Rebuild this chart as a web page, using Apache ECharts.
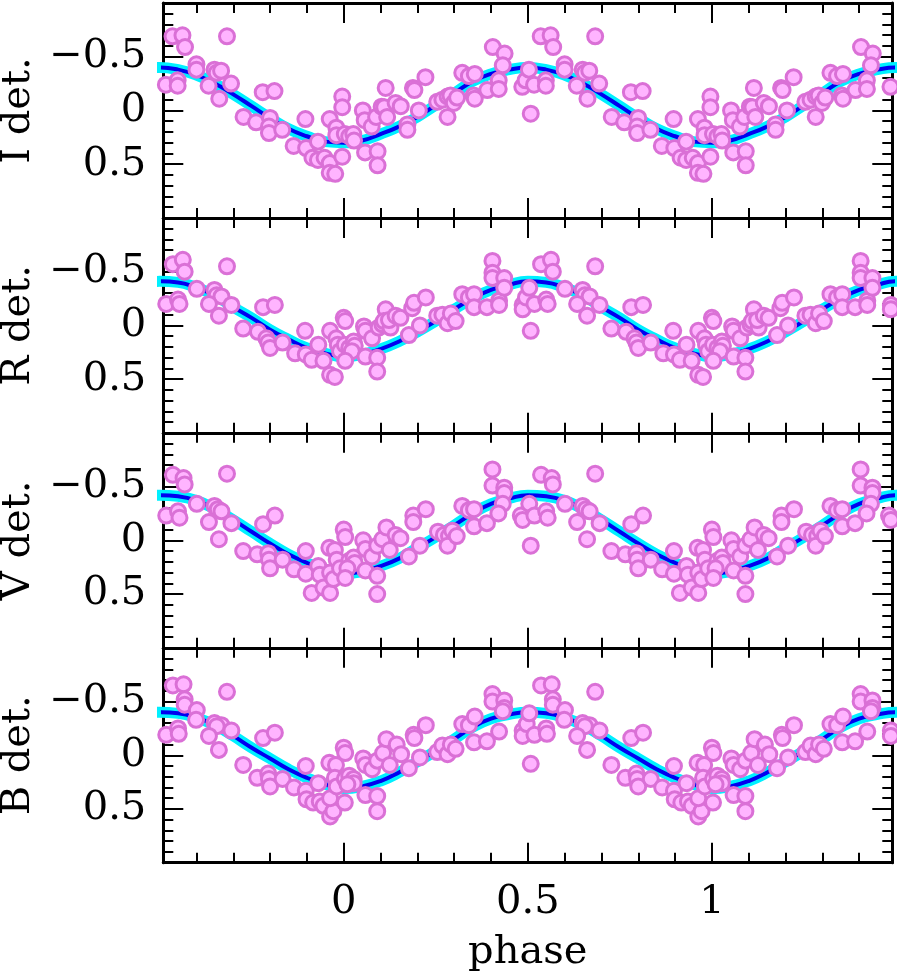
<!DOCTYPE html>
<html>
<head>
<meta charset="utf-8">
<script src="https://cdn.jsdelivr.net/npm/echarts@6/dist/echarts.min.js"></script>
<style>
  html, body { margin: 0; padding: 0; background: #fff; }
  #chart-container { width: 897px; height: 975px; }
</style>
</head>
<body>
<div id="chart-container"></div>
<script>
// panel names, top to bottom
const panelNames = ['I det.', 'R det.', 'V det.', 'B det.'];

// folded observations: [phase, detrended value], one period each
const iPoints = [
  [0.003,0.22],[0.015,0.24],[0.026,0.22],[0.028,0.28],
  [0.052,0.00],[0.058,0.39],[0.057,0.09],[0.076,0.15],[0.088,0.06],[0.092,0.38],[0.092,0.51],
  [0.103,-0.035],[0.110,-0.03],[0.114,-0.21],[0.118,0.06],[0.141,-0.07],[0.155,-0.04],[0.173,0.13],[0.173,0.18],
  [0.188,-0.21],[0.192,-0.19],[0.204,0.00],[0.222,-0.31],
  [0.254,-0.08],[0.268,-0.10],[0.282,-0.13],[0.282,0.06],[0.290,-0.14],[0.299,-0.07],[0.308,-0.12],
  [0.322,-0.35],[0.340,-0.32],[0.356,-0.34],[0.353,-0.14],[0.356,-0.11],[0.390,-0.19],
  [0.405,-0.59],[0.437,-0.53],[0.432,-0.42],[0.421,-0.28],[0.421,-0.20],
  [0.485,-0.22],[0.494,-0.28],[0.503,-0.38],[0.508,0.03],[0.517,-0.24],
  [0.535,-0.69],[0.562,-0.70],[0.569,-0.59],[0.549,-0.28],[0.549,-0.23],
  [0.600,-0.43],[0.600,-0.38],[0.633,-0.23],[0.649,-0.38],[0.655,-0.35],[0.667,-0.37],[0.662,-0.11],[0.694,-0.25],[0.683,-0.69],
  [0.728,0.06],[0.762,0.11],[0.780,-0.17],[0.812,-0.18],[0.800,0.07],[0.797,0.15],[0.797,0.21],[0.833,0.18],
  [0.864,0.33],[0.896,0.08],[0.898,0.35],[0.930,0.29],[0.915,0.44],[0.930,0.46],[0.948,0.44],
  [0.962,0.08],[0.962,0.49],[0.962,0.58],[0.977,0.59],[0.980,0.16],[0.980,0.23],
  [0.996,-0.13],[0.996,-0.03],[0.996,0.43]
];
const rPoints = [
  [0.000,-0.07],[0.004,-0.04],[0.003,0.18],[0.015,0.21],[0.027,0.15],[0.030,0.19],[0.022,0.24],[0.004,0.33],
  [0.059,0.29],[0.091,0.30],[0.091,0.43],[0.055,0.01],[0.059,0.05],[0.077,0.12],[0.095,0.02],[0.105,-0.01],
  [0.114,-0.15],[0.109,-0.04],[0.127,0.02],[0.123,-0.05],[0.141,-0.09],[0.154,-0.07],[0.177,0.09],
  [0.186,-0.16],[0.191,-0.21],[0.223,-0.26],[0.207,0.00],
  [0.254,-0.09],[0.268,-0.10],[0.282,-0.02],[0.291,-0.11],[0.304,-0.04],[0.322,-0.29],[0.340,-0.26],
  [0.354,-0.29],[0.354,-0.17],[0.389,-0.17],[0.404,-0.60],[0.404,-0.49],[0.404,-0.44],[0.422,-0.23],
  [0.422,-0.19],[0.436,-0.44],[0.436,-0.35],
  [0.486,-0.19],[0.486,-0.15],[0.495,-0.26],[0.504,-0.35],[0.518,-0.20],[0.550,-0.24],[0.554,-0.20],
  [0.508,0.05],[0.536,-0.57],[0.563,-0.61],[0.568,-0.50],[0.601,-0.34],[0.649,-0.33],[0.655,-0.28],
  [0.668,-0.27],[0.634,-0.20],[0.661,-0.09],[0.683,-0.55],[0.695,-0.19],
  [0.727,0.03],[0.767,0.06],[0.781,-0.17],[0.813,-0.19],[0.790,0.12],[0.795,0.16],[0.800,0.21],
  [0.834,0.16],[0.868,0.26],[0.895,0.05],[0.897,0.27],[0.913,0.32],[0.931,0.18],[0.945,0.33],
  [0.963,0.46],[0.976,0.48],[0.963,0.05],[0.980,0.12],[0.984,0.18],[0.990,0.24]
];
const vPoints = [
  [0.000,-0.10],[0.004,-0.03],[0.015,0.19],[0.027,0.16],[0.030,0.21],[0.010,0.26],[0.004,0.35],
  [0.059,0.28],[0.091,0.33],[0.091,0.50],[0.053,0.00],[0.059,0.08],[0.077,0.15],[0.091,0.05],
  [0.105,-0.01],[0.116,-0.12],[0.125,0.09],[0.141,-0.05],[0.154,-0.02],[0.177,0.15],[0.189,-0.23],
  [0.189,-0.17],[0.223,-0.29],[0.207,0.05],
  [0.256,-0.08],[0.272,-0.05],[0.286,-0.04],[0.282,0.05],[0.295,-0.09],[0.307,-0.04],[0.322,-0.32],
  [0.340,-0.28],[0.354,-0.29],[0.354,-0.13],[0.389,-0.16],[0.404,-0.66],[0.404,-0.51],[0.436,-0.49],
  [0.436,-0.44],[0.432,-0.34],[0.420,-0.25],
  [0.481,-0.23],[0.486,-0.19],[0.504,-0.34],[0.518,-0.23],[0.508,0.05],[0.550,-0.27],[0.554,-0.21],
  [0.536,-0.61],[0.565,-0.58],[0.568,-0.52],[0.601,-0.34],[0.649,-0.32],[0.658,-0.29],[0.668,-0.27],
  [0.634,-0.17],[0.661,-0.01],[0.683,-0.62],[0.695,-0.16],
  [0.727,0.10],[0.765,0.13],[0.781,-0.15],[0.813,-0.23],[0.795,0.12],[0.797,0.18],[0.800,0.26],
  [0.834,0.18],[0.865,0.27],[0.897,0.10],[0.897,0.31],[0.913,0.49],[0.931,0.24],[0.935,0.32],
  [0.945,0.44],[0.963,0.49],[0.961,0.07],[0.976,0.09],[0.963,0.30],[0.972,0.36],[0.981,0.18],[0.990,0.26]
];
const bPoints = [
  [0.000,-0.07],[0.004,-0.02],[0.003,0.22],[0.015,0.19],[0.027,0.22],[0.027,0.26],[0.010,0.27],[0.003,0.44],
  [0.059,0.37],[0.091,0.38],[0.091,0.52],[0.053,0.03],[0.059,0.09],[0.077,0.13],[0.091,0.05],
  [0.107,-0.02],[0.116,-0.15],[0.125,0.09],[0.144,-0.10],[0.156,-0.01],[0.177,0.12],[0.190,-0.19],
  [0.192,-0.16],[0.223,-0.28],[0.207,0.02],
  [0.254,-0.03],[0.268,-0.09],[0.282,-0.01],[0.291,-0.10],[0.304,-0.06],[0.322,-0.29],[0.340,-0.28],
  [0.356,-0.36],[0.354,-0.12],[0.389,-0.13],[0.404,-0.57],[0.404,-0.50],[0.436,-0.51],[0.436,-0.44],
  [0.422,-0.22],[0.432,-0.41],
  [0.486,-0.23],[0.486,-0.18],[0.497,-0.29],[0.504,-0.39],[0.518,-0.19],[0.550,-0.25],[0.552,-0.20],
  [0.508,0.08],[0.536,-0.65],[0.565,-0.66],[0.568,-0.52],[0.568,-0.47],[0.601,-0.42],[0.599,-0.33],
  [0.649,-0.30],[0.668,-0.28],[0.655,-0.27],[0.634,-0.18],[0.661,-0.05],[0.683,-0.59],[0.695,-0.23],
  [0.727,0.09],[0.765,0.21],[0.781,-0.16],[0.813,-0.21],[0.795,0.17],[0.797,0.22],[0.800,0.29],
  [0.834,0.22],[0.865,0.30],[0.897,0.10],[0.897,0.33],[0.899,0.41],[0.931,0.26],[0.917,0.44],
  [0.935,0.43],[0.945,0.47],[0.963,0.57],[0.972,0.52],[0.963,0.40],[0.961,0.07],[0.979,0.09],
  [0.976,0.21],[0.981,0.29]
];

// fitted light curve read at these phases (one period)
const curvePhase = [0,0.05,0.1,0.15,0.2,0.25,0.3,0.35,0.4,0.45,0.5,0.55,0.6,0.65,0.7,0.75,0.8,0.85,0.9,0.95];
const iCurve = [0.30,0.28,0.22,0.15,0.06,-0.05,-0.16,-0.27,-0.34,-0.38,-0.40,-0.38,-0.33,-0.25,-0.15,-0.04,0.07,0.17,0.24,0.29];
const rCurve = [0.29,0.27,0.22,0.15,0.06,-0.04,-0.15,-0.25,-0.33,-0.38,-0.41,-0.40,-0.35,-0.28,-0.17,-0.07,0.04,0.13,0.21,0.26];
const vCurve = [0.31,0.29,0.24,0.17,0.07,-0.03,-0.14,-0.25,-0.34,-0.39,-0.42,-0.41,-0.37,-0.29,-0.19,-0.08,0.03,0.13,0.21,0.27];
const bCurve = [0.31,0.29,0.24,0.16,0.06,-0.04,-0.15,-0.26,-0.34,-0.38,-0.40,-0.39,-0.35,-0.28,-0.18,-0.07,0.03,0.13,0.21,0.27];

// axis ticks
const xMajor = [0, 0.5, 1];
const xMinor = [-0.4,-0.3,-0.2,-0.1,0.1,0.2,0.3,0.4,0.6,0.7,0.8,0.9,1.1,1.2,1.3,1.4];
const yMajor = [-0.5, 0, 0.5];
const yMinor = [-0.9,-0.8,-0.7,-0.6,-0.4,-0.3,-0.2,-0.1,0.1,0.2,0.3,0.4,0.6,0.7,0.8,0.9];

const allPoints = [iPoints, rPoints, vPoints, bPoints];
const allCurves = [iCurve, rCurve, vCurve, bCurve];

const X_MIN = -0.49, X_MAX = 1.49;
const FONT = 'DejaVu Serif';

// repeat one folded period over the plotted phase range
function fold(pairs, lo, hi) {
    const out = [];
    [-1, 0, 1].forEach(function (s) {
        pairs.forEach(function (p) {
            const x = p[0] + s;
            if (x >= lo && x <= hi) out.push([x, p[1]]);
        });
    });
    return out;
}

function fmt(v) {
    return v < 0 ? '\u2212' + (-v) : String(v);
}

const dom = document.getElementById('chart-container');
const myChart = echarts.init(dom, null, { renderer: 'canvas' });

const grids = [], xAxes = [], yAxes = [], series = [];
const top0 = 3, panelH = 214.93;

panelNames.forEach(function (name, i) {
    grids.push({ left: 163.3, top: top0 + i * panelH, width: 729, height: panelH,
                 containLabel: false, outerBoundsMode: 'none' });
    const last = i === panelNames.length - 1;

    function xAx(pos, ticks, len, main) {
        return {
            type: 'value', gridIndex: i, position: pos, min: X_MIN, max: X_MAX,
            axisLine: { show: main, onZero: false, lineStyle: { color: '#000', width: 3 } },
            axisTick: { show: true, inside: true, length: len, customValues: ticks,
                        lineStyle: { color: '#000', width: 2 } },
            axisLabel: { show: main && last && pos === 'bottom', customValues: xMajor, margin: 20,
                         color: '#000', fontFamily: FONT, fontSize: 40, formatter: fmt },
            splitLine: { show: false },
            name: (main && last && pos === 'bottom') ? 'phase' : '',
            nameLocation: 'middle', nameGap: 70,
            nameTextStyle: { color: '#000', fontFamily: FONT, fontSize: 40 }
        };
    }
    function yAx(pos, ticks, len, main) {
        return {
            type: 'value', gridIndex: i, position: pos, min: -1, max: 1, inverse: true,
            axisLine: { show: main, onZero: false, lineStyle: { color: '#000', width: 3 } },
            axisTick: { show: true, inside: true, length: len, customValues: ticks,
                        lineStyle: { color: '#000', width: 2 } },
            axisLabel: { show: main && pos === 'left', customValues: yMajor, margin: 17,
                         color: '#000', fontFamily: FONT, fontSize: 40, formatter: fmt },
            splitLine: { show: false },
            name: (main && pos === 'left') ? name : '',
            nameLocation: 'middle', nameGap: 125, nameRotate: 90,
            nameTextStyle: { color: '#000', fontFamily: FONT, fontSize: 40 }
        };
    }

    const base = xAxes.length;
    xAxes.push(xAx('bottom', xMajor, 20, true), xAx('bottom', xMinor, 10, false),
               xAx('top', xMajor, 20, true), xAx('top', xMinor, 10, false));
    yAxes.push(yAx('left', yMajor, 20, true), yAx('left', yMinor, 10, false),
               yAx('right', yMajor, 20, true), yAx('right', yMinor, 10, false));

    const curvePairs = curvePhase.map(function (p, k) { return [p, allCurves[i][k]]; });
    const curve = fold(curvePairs, -0.6, 1.6).sort(function (a, b) { return a[0] - b[0]; });

    series.push({
        type: 'line', xAxisIndex: base, yAxisIndex: base, data: curve, smooth: true,
        showSymbol: false, symbol: 'none', clip: true, silent: true,
        lineStyle: { color: '#00F0FF', width: 11 }, z: 2
    }, {
        type: 'line', xAxisIndex: base, yAxisIndex: base, data: curve, smooth: true,
        showSymbol: false, symbol: 'none', clip: true, silent: true,
        lineStyle: { color: '#0000F0', width: 4 }, z: 3
    }, {
        type: 'scatter', xAxisIndex: base, yAxisIndex: base,
        data: fold(allPoints[i], X_MIN, X_MAX), clip: true, silent: true,
        symbol: 'circle', symbolSize: 15,
        itemStyle: { color: '#FFB4FF', borderColor: '#DA70D6', borderWidth: 3, opacity: 1 },
        z: 4
    });
});

const option = {
    animation: false,
    backgroundColor: '#fff',
    grid: grids,
    xAxis: xAxes,
    yAxis: yAxes,
    series: series
};

myChart.setOption(option, true);
</script>
</body>
</html>
